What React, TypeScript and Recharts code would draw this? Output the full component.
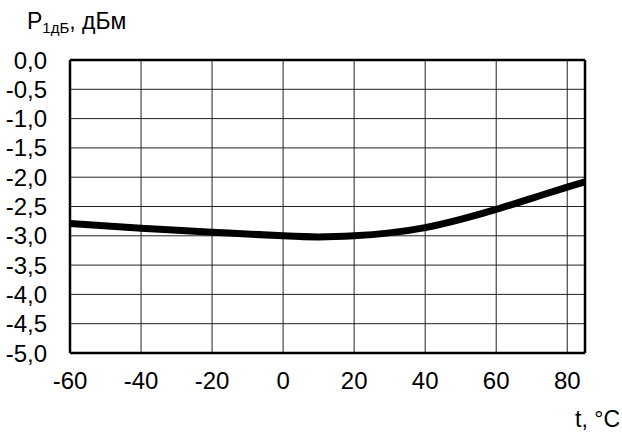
import React from 'react';
import { LineChart, Line, XAxis, YAxis, CartesianGrid, ReferenceLine } from 'recharts';

const temps = [-60, -40, -20, 0, 10, 20, 30, 40, 50, 60, 70, 80, 85];
const p1db = [-2.79, -2.87, -2.94, -3.0, -3.02, -3.0, -2.95, -2.86, -2.72, -2.55, -2.36, -2.17, -2.08];
const xTicks = [-60, -40, -20, 0, 20, 40, 60, 80];
const yTicks = [-5, -4.5, -4, -3.5, -3, -2.5, -2, -1.5, -1, -0.5, 0];

const data = temps.map((t, i) => ({ t, p: p1db[i] }));

const font = 'Liberation Sans, Arial, sans-serif';
const fmt = (v: number) => v.toFixed(1).replace('.', ',');

export default function App() {
  return (
    <div style={{ position: 'absolute', left: 0, top: 0, width: 622, height: 432, background: '#fff' }}>
      <LineChart width={622} height={432} data={data} margin={{ top: 60, right: 37, bottom: 0, left: 0 }}>
        <CartesianGrid stroke="#222" strokeWidth={1} horizontalValues={yTicks} verticalValues={xTicks} />
        <XAxis
          type="number"
          dataKey="t"
          domain={[-60, 85]}
          ticks={xTicks}
          interval={0}
          height={79}
          tickSize={0}
          tickMargin={19}
          axisLine={{ stroke: '#000', strokeWidth: 2.5 }}
          tickLine={false}
          tick={{ fill: '#000', fontSize: 24, fontFamily: font }}
          allowDataOverflow
        />
        <YAxis
          type="number"
          domain={[-5, 0]}
          ticks={yTicks}
          interval={0}
          width={70}
          tickSize={0}
          tickMargin={23}
          tickFormatter={fmt}
          axisLine={{ stroke: '#000', strokeWidth: 2.5 }}
          tickLine={false}
          tick={{ fill: '#000', fontSize: 24, fontFamily: font }}
          allowDataOverflow
        />
        <ReferenceLine y={0} stroke="#000" strokeWidth={2.5} />
        <ReferenceLine x={85} stroke="#000" strokeWidth={2.5} />
        <Line
          type="natural"
          dataKey="p"
          stroke="#000"
          strokeWidth={7}
          dot={false}
          isAnimationActive={false}
        />
      </LineChart>
      <svg width={622} height={432} style={{ position: 'absolute', left: 0, top: 0, pointerEvents: 'none' }}>
        <text x={27} y={29} fontFamily={font} fontSize={23} fill="#000">
          P
          <tspan fontSize={15} dy={4}>1дБ</tspan>
          <tspan dy={-4}>, дБм</tspan>
        </text>
        <text x={620} y={427} textAnchor="end" fontFamily={font} fontSize={23} fill="#000">
          t, °C
        </text>
      </svg>
    </div>
  );
}
